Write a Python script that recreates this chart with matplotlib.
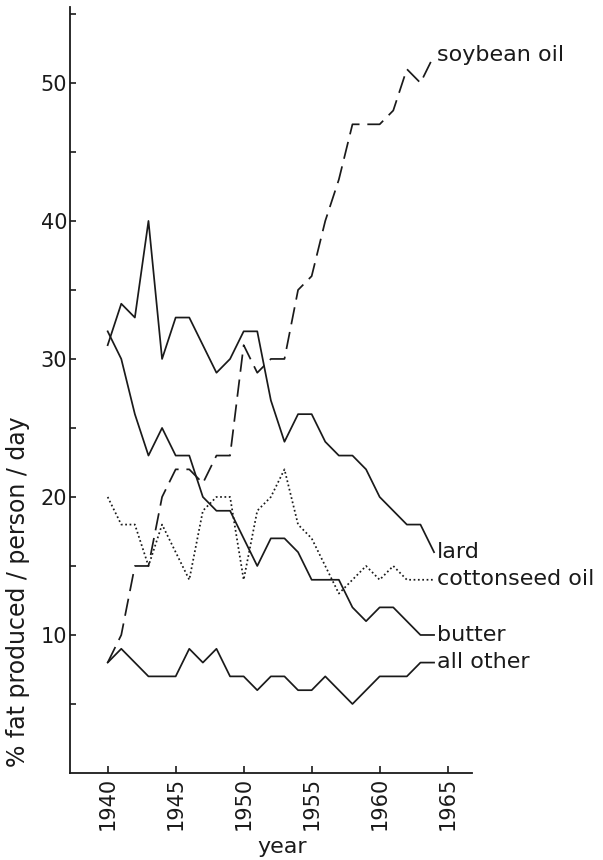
import numpy as np
import matplotlib.pyplot as plt

# values (% of fat produced per person per day)
years = list(range(1940, 1965))
soybean = [8, 10, 15, 15, 20, 22, 22, 21, 23, 23, 31, 29, 30, 30, 35, 36, 40, 43, 47, 47, 47, 48, 51, 50, 52]
lard = [31, 34, 33, 40, 30, 33, 33, 31, 29, 30, 32, 32, 27, 24, 26, 26, 24, 23, 23, 22, 20, 19, 18, 18, 16]
cottonseed = [20, 18, 18, 15, 18, 16, 14, 19, 20, 20, 14, 19, 20, 22, 18, 17, 15, 13, 14, 15, 14, 15, 14, 14, 14]
butter = [32, 30, 26, 23, 25, 23, 23, 20, 19, 19, 17, 15, 17, 17, 16, 14, 14, 14, 12, 11, 12, 12, 11, 10, 10]
all_other = [8, 9, 8, 7, 7, 7, 9, 8, 9, 7, 7, 6, 7, 7, 6, 6, 7, 6, 5, 6, 7, 7, 7, 8, 8]

labels = ["soybean oil", "lard", "cottonseed oil", "butter", "all other"]
x_ticks = [1940, 1945, 1950, 1955, 1960, 1965]

plt.rcParams['font.family'] = 'DejaVu Sans'
ink = '#1a1a1a'

fig = plt.figure(figsize=(6.03, 8.6), dpi=100)
W, H = 603, 860
ax = fig.add_axes([70 / W, 1 - 773 / H, (472 - 70) / W, (773 - 7) / H])

styles = {
    "soybean oil": dict(linestyle=(0, (10, 4.5))),
    "lard": dict(linestyle='-'),
    "cottonseed oil": dict(linestyle=(0, (1, 1.5))),
    "butter": dict(linestyle='-'),
    "all other": dict(linestyle='-'),
}
data = [soybean, lard, cottonseed, butter, all_other]

for name, vals in zip(labels, data):
    ax.plot(years, vals, color=ink, lw=1.25, **styles[name])
    ax.annotate(name, (years[-1], vals[-1]), xytext=(2, -4), textcoords='offset points',
                ha='left', va='baseline', fontsize=16, color=ink, annotation_clip=False)

ax.set_xlim(1937.23, 1966.79)
ax.set_ylim(0, 55.5)

ax.set_xticks(x_ticks)
ax.set_xticklabels([str(y) for y in x_ticks], rotation=90, fontsize=15, color=ink)
yt = np.arange(5, 56, 5)
ax.set_yticks(yt)
ax.set_yticklabels([str(v) if v % 10 == 0 else '' for v in yt], fontsize=15, color=ink)
ax.tick_params(axis='x', direction='in', length=5, width=1.2, pad=3, color=ink)
ax.tick_params(axis='y', direction='in', length=4.5, width=1.2, pad=2, color=ink)

for s in ['top', 'right']:
    ax.spines[s].set_visible(False)
for s in ['left', 'bottom']:
    ax.spines[s].set_linewidth(1.3)
    ax.spines[s].set_color(ink)

fig.text(18 / W, 1 - 592 / H, '% fat produced / person / day', rotation=90,
         ha='center', va='center', fontsize=17, color=ink)
fig.text(282 / W, 1 - 847 / H, 'year', ha='center', va='center', fontsize=16, color=ink)

fig.savefig('out.png', dpi=100)
